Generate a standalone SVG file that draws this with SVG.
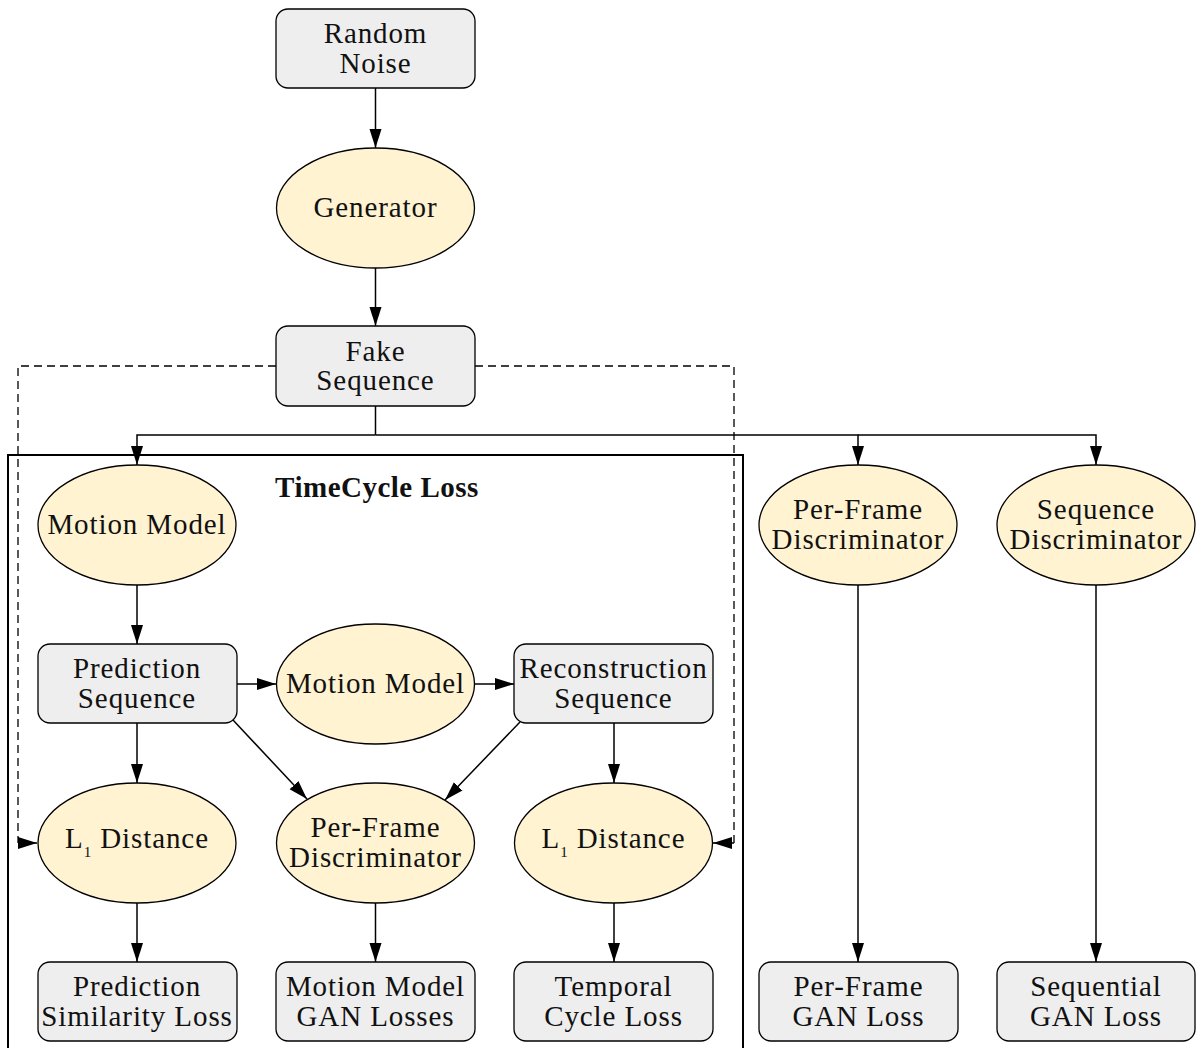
<svg xmlns="http://www.w3.org/2000/svg" width="1196" height="1048" viewBox="0 0 1196 1048">
<defs>
<marker id="ah" markerUnits="userSpaceOnUse" markerWidth="20" markerHeight="14" refX="19" refY="7" orient="auto">
<path d="M0,1 L19,7 L0,13 z" fill="#000"/>
</marker>
<style>
.box{fill:#eeeeee;stroke:#000;stroke-width:1.3}
.ell{fill:#fff3d1;stroke:#000;stroke-width:1.3}
text{font-family:'Liberation Serif','DejaVu Serif','Times New Roman',serif;font-size:29px;letter-spacing:0.9px;fill:#111;text-anchor:middle}
.c{fill:none;stroke:#000;stroke-width:1.5;marker-end:url(#ah)}
.l{fill:none;stroke:#000;stroke-width:1.5}
.d{fill:none;stroke:#000;stroke-width:1.3;stroke-dasharray:8,5}
.frame{fill:none;stroke:#000;stroke-width:2}
.title{font-weight:bold;letter-spacing:0.5px}
</style>
</defs>
<rect x="0" y="0" width="1196" height="1048" fill="#fff"/>
<g id="timecycle-frame">
<rect class="frame" x="8" y="455" width="735" height="620"/>
<text class="title" x="377" y="497">TimeCycle Loss</text>
</g>
<g id="connectors">
<line class="c" x1="375.5" y1="88" x2="375.5" y2="148"/>
<line class="c" x1="375.5" y1="268" x2="375.5" y2="326"/>
<polyline class="l" points="375.5,406 375.5,435"/>
<polyline class="c" points="375.5,435 137,435 137,465"/>
<polyline class="c" points="375.5,435 858,435 858,465"/>
<polyline class="c" points="858,435 1096,435 1096,465"/>
<polyline class="d" points="276,366 18,366 18,843"/>
<line class="c" x1="18" y1="843" x2="37" y2="843"/>
<polyline class="d" points="475,366 734,366 734,843"/>
<line class="c" x1="734" y1="843" x2="713" y2="843"/>
<line class="c" x1="137" y1="585" x2="137" y2="644"/>
<line class="c" x1="237" y1="684" x2="276" y2="684"/>
<line class="c" x1="475" y1="684" x2="514" y2="684"/>
<line class="c" x1="137" y1="723" x2="137" y2="783"/>
<line class="c" x1="614" y1="723" x2="614" y2="783"/>
<line class="c" x1="233" y1="720" x2="307" y2="799"/>
<line class="c" x1="520" y1="722" x2="445" y2="800"/>
<line class="c" x1="137" y1="903" x2="137" y2="962"/>
<line class="c" x1="375.5" y1="903" x2="375.5" y2="962"/>
<line class="c" x1="614" y1="903" x2="614" y2="962"/>
<line class="c" x1="858" y1="585" x2="858" y2="962"/>
<line class="c" x1="1096" y1="585" x2="1096" y2="962"/>
</g>
<g id="random-noise">
<rect class="box" x="276" y="9" width="199" height="79" rx="12"/>
<text x="375.5" y="43">Random</text><text x="375.5" y="73">Noise</text>
</g>
<g id="generator">
<ellipse class="ell" cx="375.5" cy="208" rx="99" ry="60"/>
<text x="375.5" y="217">Generator</text>
</g>
<g id="fake-sequence">
<rect class="box" x="276" y="326" width="199" height="80" rx="12"/>
<text x="375.5" y="361">Fake</text><text x="375.5" y="390">Sequence</text>
</g>
<g id="motion-model-1">
<ellipse class="ell" cx="137" cy="525" rx="99" ry="60"/>
<text x="137" y="534">Motion Model</text>
</g>
<g id="prediction-sequence">
<rect class="box" x="38" y="644" width="199" height="79" rx="12"/>
<text x="137" y="678">Prediction</text><text x="137" y="708">Sequence</text>
</g>
<g id="motion-model-2">
<ellipse class="ell" cx="375.5" cy="684" rx="99" ry="60"/>
<text x="375.5" y="693">Motion Model</text>
</g>
<g id="reconstruction-sequence">
<rect class="box" x="514" y="644" width="199" height="79" rx="12"/>
<text x="613.5" y="678">Reconstruction</text><text x="613.5" y="708">Sequence</text>
</g>
<g id="l1-distance-1">
<ellipse class="ell" cx="137" cy="843" rx="99" ry="60"/>
<text x="137" y="848">L<tspan font-size="15" dy="9">1</tspan><tspan dy="-9"> Distance</tspan></text>
</g>
<g id="per-frame-discriminator-1">
<ellipse class="ell" cx="375.5" cy="843" rx="99" ry="60"/>
<text x="375.5" y="837">Per-Frame</text><text x="375.5" y="867">Discriminator</text>
</g>
<g id="l1-distance-2">
<ellipse class="ell" cx="613.5" cy="843" rx="99" ry="60"/>
<text x="613.5" y="848">L<tspan font-size="15" dy="9">1</tspan><tspan dy="-9"> Distance</tspan></text>
</g>
<g id="per-frame-discriminator-2">
<ellipse class="ell" cx="858" cy="525" rx="99" ry="60"/>
<text x="858" y="519">Per-Frame</text><text x="858" y="549">Discriminator</text>
</g>
<g id="sequence-discriminator">
<ellipse class="ell" cx="1096" cy="525" rx="99" ry="60"/>
<text x="1096" y="519">Sequence</text><text x="1096" y="549">Discriminator</text>
</g>
<g id="prediction-similarity-loss">
<rect class="box" x="38" y="962" width="199" height="79" rx="12"/>
<text x="137" y="996">Prediction</text><text x="137" y="1026">Similarity Loss</text>
</g>
<g id="motion-model-gan-losses">
<rect class="box" x="276" y="962" width="199" height="79" rx="12"/>
<text x="375.5" y="996">Motion Model</text><text x="375.5" y="1026">GAN Losses</text>
</g>
<g id="temporal-cycle-loss">
<rect class="box" x="514" y="962" width="199" height="79" rx="12"/>
<text x="613.5" y="996">Temporal</text><text x="613.5" y="1026">Cycle Loss</text>
</g>
<g id="per-frame-gan-loss">
<rect class="box" x="759" y="962" width="199" height="79" rx="12"/>
<text x="858.5" y="996">Per-Frame</text><text x="858.5" y="1026">GAN Loss</text>
</g>
<g id="sequential-gan-loss">
<rect class="box" x="997" y="962" width="198" height="79" rx="12"/>
<text x="1096" y="996">Sequential</text><text x="1096" y="1026">GAN Loss</text>
</g>
</svg>
